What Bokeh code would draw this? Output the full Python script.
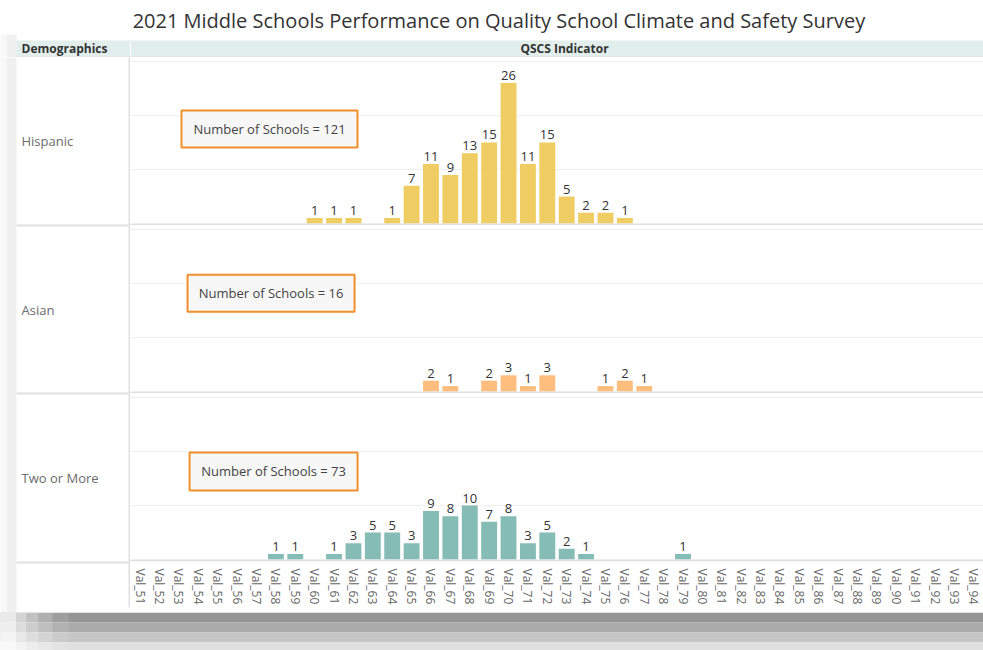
from bokeh.plotting import figure
from bokeh.models import FactorRange, Range1d, FixedTicker, Span, ColumnDataSource
from bokeh.layouts import column, row
from bokeh.core.properties import value
from bokeh.embed import file_html
from bokeh.resources import INLINE

# ---------------- data ----------------
title = "2021 Middle Schools Performance on Quality School Climate and Safety  Survey"
categories = ["Val_%d" % i for i in range(51, 95)]

hispanic_cats = ["Val_60", "Val_61", "Val_62", "Val_64", "Val_65", "Val_66", "Val_67", "Val_68",
                 "Val_69", "Val_70", "Val_71", "Val_72", "Val_73", "Val_74", "Val_75", "Val_76"]
hispanic_counts = [1, 1, 1, 1, 7, 11, 9, 13, 15, 26, 11, 15, 5, 2, 2, 1]

asian_cats = ["Val_66", "Val_67", "Val_69", "Val_70", "Val_71", "Val_72", "Val_75", "Val_76", "Val_77"]
asian_counts = [2, 1, 2, 3, 1, 3, 1, 2, 1]

two_cats = ["Val_58", "Val_59", "Val_61", "Val_62", "Val_63", "Val_64", "Val_65", "Val_66", "Val_67",
            "Val_68", "Val_69", "Val_70", "Val_71", "Val_72", "Val_73", "Val_74", "Val_79"]
two_counts = [1, 1, 1, 3, 5, 5, 3, 9, 8, 10, 7, 8, 3, 5, 2, 1, 1]

demographics = ["Hispanic", "Asian", "Two or More"]
school_totals = [121, 16, 73]
colors = ["#F0CD62", "#FFBE7D", "#86BCB6"]

FONT = "Open Sans"


def pix_fig(w, h):
    p = figure(width=w, height=h, x_range=Range1d(0, w), y_range=Range1d(h, 0),
               min_border=0, toolbar_location=None, output_backend="svg",
               outline_line_color=None)
    p.axis.visible = False
    p.grid.visible = False
    return p


# ---------------- header ----------------
hdr = pix_fig(983, 57)
hdr.quad(left=0, right=6, top=34, bottom=57, color="#f8f8f8", line_color=None)
hdr.quad(left=6, right=16, top=34, bottom=57, color="#f0f0f0", line_color=None)
hdr.quad(left=16, right=983, top=40, bottom=56, color="#e2eeeb", line_color=None)
hdr.segment(x0=16, y0=56.5, x1=983, y1=56.5, line_color="#d6d6d6", line_width=1)
hdr.segment(x0=130, y0=40, x1=130, y1=56, line_color="#ffffff", line_width=1)
hdr.text(x=[501], y=[20], text=[title], text_align="center", text_baseline="middle",
         text_font=value(FONT), text_font_size="20px", text_color="#333333")
hdr.text(x=[21], y=[48], text=["Demographics"], text_align="left", text_baseline="middle",
         text_font=value(FONT), text_font_size="12px", text_font_style="bold", text_color="#333333")
hdr.text(x=[564], y=[48], text=["QSCS Indicator"], text_align="center", text_baseline="middle",
         text_font=value(FONT), text_font_size="12px", text_font_style="bold", text_color="#333333")

# ---------------- row label column ----------------
lab = pix_fig(130, 555)
lab.quad(left=0, right=6, top=0, bottom=555, color="#f8f8f8", line_color=None)
lab.quad(left=6, right=16, top=0, bottom=555, color="#f0f0f0", line_color=None)
for ysep in [168, 336, 505]:
    lab.segment(x0=16, y0=ysep, x1=130, y1=ysep, line_color="#e0e0e0", line_width=2)
lab.segment(x0=129, y0=0, x1=129, y1=550, line_color="#e0e0e0", line_width=2)
lab.text(x=[21, 21, 21], y=[83, 252, 420], text=demographics, text_align="left",
         text_baseline="middle", text_font=value(FONT), text_font_size="13px",
         text_color="#6b6b6b")

# ---------------- panels ----------------
xr = FactorRange(factors=categories, range_padding=0)
yr = Range1d(-0.37, 30.74)

note_pos = [(7.17, 17.5, 176, 37), (7.25, 18.2, 167, 37), (7.38, 16.3, 168, 38)]
series = [(hispanic_cats, hispanic_counts), (asian_cats, asian_counts), (two_cats, two_counts)]

panels = []
for i, ((cats, counts), color, total) in enumerate(zip(series, colors, school_totals)):
    with_axis = (i == 2)
    p = figure(x_range=xr, y_range=yr, frame_width=853, frame_height=168,
               min_border=0, min_border_bottom=(51 if with_axis else 0),
               toolbar_location=None, output_backend="svg", outline_line_color=None)
    src = ColumnDataSource(dict(x=cats, top=counts, lbl=[str(c) for c in counts]))
    p.vbar(x="x", top="top", width=0.82, color=color, line_color=None, source=src)
    p.text(x="x", y="top", text="lbl", source=src, y_offset=-3, text_align="center",
           text_baseline="bottom", text_font=value(FONT), text_font_size="13px",
           text_color="#333333")
    p.ygrid.ticker = FixedTicker(ticks=[10, 20, 30])
    p.ygrid.grid_line_color = "#efefef"
    p.xgrid.visible = False
    p.yaxis.visible = False
    if with_axis:
        ax = p.xaxis[0]
        ax.major_label_orientation = "vertical"
        ax.major_label_text_font = FONT
        ax.major_label_text_font_size = "12px"
        ax.major_label_text_color = "#666666"
        ax.major_tick_line_color = None
        ax.minor_tick_line_color = None
        ax.axis_line_color = None
        ax.major_label_standoff = 1
    else:
        p.xaxis.visible = False
    p.add_layout(Span(location=-0.19, dimension="width", line_color="#e0e0e0", line_width=2))
    nx, ny, nw, nh = note_pos[i]
    p.rect(x=[nx], y=[ny], width=nw, height=nh, width_units="screen", height_units="screen",
           fill_color="#f7f7f7", line_color="#F28E2B", line_width=2)
    p.text(x=[nx], y=[ny], text=["Number of Schools = %d" % total], text_align="center",
           text_baseline="middle", text_font=value(FONT), text_font_size="13px",
           text_color="#444444")
    panels.append(p)

# ---------------- footer (shadow) ----------------
foot = pix_fig(983, 38)
foot.quad(left=0, right=983, top=0, bottom=10, color="#959595", line_color=None)
foot.quad(left=0, right=983, top=10, bottom=20, color="#aaaaaa", line_color=None)
foot.quad(left=0, right=983, top=20, bottom=30, color="#c6c6c6", line_color=None)
foot.quad(left=0, right=983, top=30, bottom=38, color="#e0e0e0", line_color=None)
for x0, x1, a in [(0, 16, 0.8), (16, 26, 0.6), (26, 38, 0.42), (38, 52, 0.25), (52, 68, 0.1)]:
    foot.quad(left=x0, right=x1, top=0, bottom=38, color="#ffffff", alpha=a, line_color=None)

layout = column(hdr, row(lab, column(*panels, spacing=0), spacing=0), foot, spacing=0)

open("out.html", "w").write(file_html(layout, INLINE))
